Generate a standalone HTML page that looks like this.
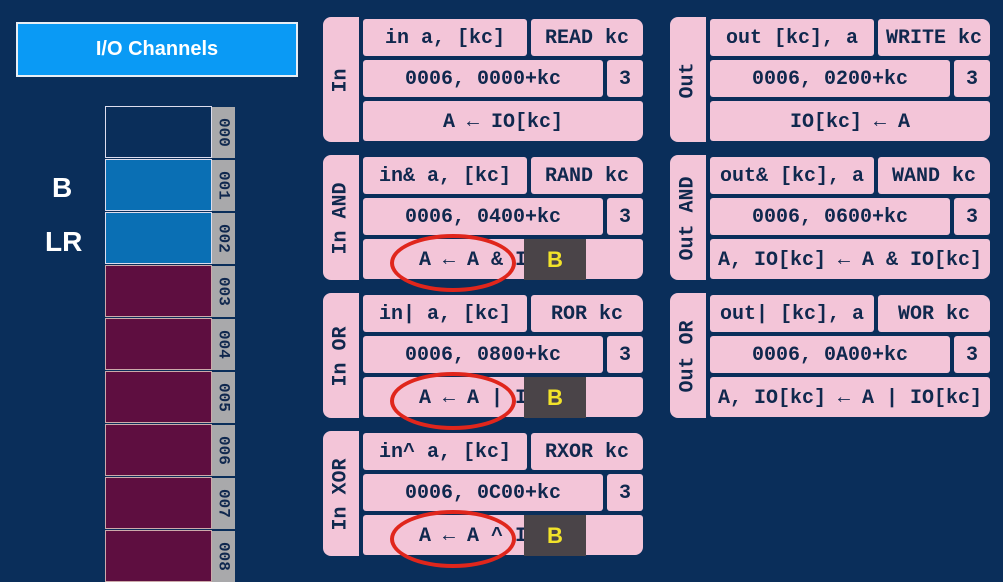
<!DOCTYPE html>
<html><head><style>
body{margin:0;width:1003px;height:570px;background:#0a2e5a;position:relative;overflow:hidden;font-family:"Liberation Sans",sans-serif}
.a{position:absolute}
.c{position:absolute;background:#f3c5d8;color:#10284e;font:bold 20px "Liberation Mono",monospace;display:flex;align-items:center;justify-content:center;white-space:nowrap;border-radius:3px;padding-top:2px;box-sizing:border-box}
.v span{display:inline-block;transform:rotate(-90deg);white-space:nowrap}
.mem{position:absolute;left:105px;width:105px;height:50px;border:1px solid #dde}
.lab{position:absolute;left:212px;width:23px;height:51px;background:#a9a9ab;color:#10284e;font:bold 16px "Liberation Mono",monospace;writing-mode:vertical-rl;display:flex;align-items:center;justify-content:center}
.ell{position:absolute;border:4px solid #e0261c;border-radius:50%}
.bb{position:absolute;background:#4a4448;color:#f2e32a;font:bold 22px "Liberation Sans",sans-serif;display:flex;align-items:center;justify-content:center}
.io{position:absolute;color:#f3c5d8;font:bold 20px "Liberation Mono",monospace}
</style></head><body>
<div class="a" style="left:16px;top:22px;width:278px;height:51px;background:#0a9af5;border:2px solid #e8eef5;color:#fff;font-size:20px;font-weight:bold;display:flex;align-items:center;justify-content:center">I/O Channels</div>
<div class="a" style="left:52px;top:172px;color:#fff;font-size:28px;font-weight:bold">B</div>
<div class="a" style="left:45px;top:226px;color:#fff;font-size:28px;font-weight:bold">LR</div>
<div class="mem" style="top:106px;background:#0a2e5a"></div>
<div class="mem" style="top:159px;background:#0a6fb4"></div>
<div class="mem" style="top:212px;background:#0a6fb4"></div>
<div class="mem" style="top:265px;background:#5e0e40;border-color:#caa"></div>
<div class="mem" style="top:318px;background:#5e0e40;border-color:#caa"></div>
<div class="mem" style="top:371px;background:#5e0e40;border-color:#caa"></div>
<div class="mem" style="top:424px;background:#5e0e40;border-color:#caa"></div>
<div class="mem" style="top:477px;background:#5e0e40;border-color:#caa"></div>
<div class="mem" style="top:530px;background:#5e0e40;border-color:#caa"></div>
<div class="lab" style="top:107px">000</div>
<div class="lab" style="top:160px">001</div>
<div class="lab" style="top:213px">002</div>
<div class="lab" style="top:266px">003</div>
<div class="lab" style="top:319px">004</div>
<div class="lab" style="top:372px">005</div>
<div class="lab" style="top:425px">006</div>
<div class="lab" style="top:478px">007</div>
<div class="lab" style="top:531px">008</div>

<!-- left panels -->
<div class="c v" style="left:323px;top:17px;width:36px;height:125px;border-radius:8px 0 0 8px"><span>In</span></div>
<div class="c" style="left:363px;top:19px;width:164px;height:37px">in a, [kc]</div>
<div class="c" style="left:531px;top:19px;width:112px;height:37px;border-radius:3px 8px 3px 3px">READ kc</div>
<div class="c" style="left:363px;top:60px;width:240px;height:37px">0006, 0000+kc</div>
<div class="c" style="left:607px;top:60px;width:36px;height:37px">3</div>
<div class="c" style="left:363px;top:101px;width:280px;height:40px;border-radius:3px 3px 8px 3px">A ← IO[kc]</div>

<div class="c v" style="left:323px;top:155px;width:36px;height:125px;border-radius:8px 0 0 8px"><span>In AND</span></div>
<div class="c" style="left:363px;top:157px;width:164px;height:37px">in&amp; a, [kc]</div>
<div class="c" style="left:531px;top:157px;width:112px;height:37px;border-radius:3px 8px 3px 3px">RAND kc</div>
<div class="c" style="left:363px;top:198px;width:240px;height:37px">0006, 0400+kc</div>
<div class="c" style="left:607px;top:198px;width:36px;height:37px">3</div>
<div class="c" style="left:363px;top:239px;width:280px;height:40px;border-radius:3px 3px 8px 3px">A ← A &amp; IO[kc]</div>

<div class="c v" style="left:323px;top:293px;width:36px;height:125px;border-radius:8px 0 0 8px"><span>In OR</span></div>
<div class="c" style="left:363px;top:295px;width:164px;height:37px">in| a, [kc]</div>
<div class="c" style="left:531px;top:295px;width:112px;height:37px;border-radius:3px 8px 3px 3px">ROR kc</div>
<div class="c" style="left:363px;top:336px;width:240px;height:37px">0006, 0800+kc</div>
<div class="c" style="left:607px;top:336px;width:36px;height:37px">3</div>
<div class="c" style="left:363px;top:377px;width:280px;height:40px;border-radius:3px 3px 8px 3px">A ← A | IO[kc]</div>

<div class="c v" style="left:323px;top:431px;width:36px;height:125px;border-radius:8px 0 0 8px"><span>In XOR</span></div>
<div class="c" style="left:363px;top:433px;width:164px;height:37px">in^ a, [kc]</div>
<div class="c" style="left:531px;top:433px;width:112px;height:37px;border-radius:3px 8px 3px 3px">RXOR kc</div>
<div class="c" style="left:363px;top:474px;width:240px;height:37px">0006, 0C00+kc</div>
<div class="c" style="left:607px;top:474px;width:36px;height:37px">3</div>
<div class="c" style="left:363px;top:515px;width:280px;height:40px;border-radius:3px 3px 8px 3px">A ← A ^ IO[kc]</div>

<!-- right panels -->
<div class="c v" style="left:670px;top:17px;width:36px;height:125px;border-radius:8px 0 0 8px"><span>Out</span></div>
<div class="c" style="left:710px;top:19px;width:164px;height:37px">out [kc], a</div>
<div class="c" style="left:878px;top:19px;width:112px;height:37px;border-radius:3px 8px 3px 3px">WRITE kc</div>
<div class="c" style="left:710px;top:60px;width:240px;height:37px">0006, 0200+kc</div>
<div class="c" style="left:954px;top:60px;width:36px;height:37px">3</div>
<div class="c" style="left:710px;top:101px;width:280px;height:40px;border-radius:3px 3px 8px 3px">IO[kc] ← A</div>

<div class="c v" style="left:670px;top:155px;width:36px;height:125px;border-radius:8px 0 0 8px"><span>Out AND</span></div>
<div class="c" style="left:710px;top:157px;width:164px;height:37px">out&amp; [kc], a</div>
<div class="c" style="left:878px;top:157px;width:112px;height:37px;border-radius:3px 8px 3px 3px">WAND kc</div>
<div class="c" style="left:710px;top:198px;width:240px;height:37px">0006, 0600+kc</div>
<div class="c" style="left:954px;top:198px;width:36px;height:37px">3</div>
<div class="c" style="left:710px;top:239px;width:280px;height:40px;border-radius:3px 3px 8px 3px">A, IO[kc] ← A &amp; IO[kc]</div>

<div class="c v" style="left:670px;top:293px;width:36px;height:125px;border-radius:8px 0 0 8px"><span>Out OR</span></div>
<div class="c" style="left:710px;top:295px;width:164px;height:37px">out| [kc], a</div>
<div class="c" style="left:878px;top:295px;width:112px;height:37px;border-radius:3px 8px 3px 3px">WOR kc</div>
<div class="c" style="left:710px;top:336px;width:240px;height:37px">0006, 0A00+kc</div>
<div class="c" style="left:954px;top:336px;width:36px;height:37px">3</div>
<div class="c" style="left:710px;top:377px;width:280px;height:40px;border-radius:3px 3px 8px 3px">A, IO[kc] ← A | IO[kc]</div>

<!-- overlays -->
<div class="bb" style="left:524px;top:239px;width:62px;height:41px">B</div>
<div class="bb" style="left:524px;top:377px;width:62px;height:41px">B</div>
<div class="bb" style="left:524px;top:515px;width:62px;height:41px">B</div>
<div class="ell" style="left:390px;top:234px;width:118px;height:50px"></div>
<div class="ell" style="left:390px;top:372px;width:118px;height:50px"></div>
<div class="ell" style="left:390px;top:510px;width:118px;height:50px"></div>
</body></html>
